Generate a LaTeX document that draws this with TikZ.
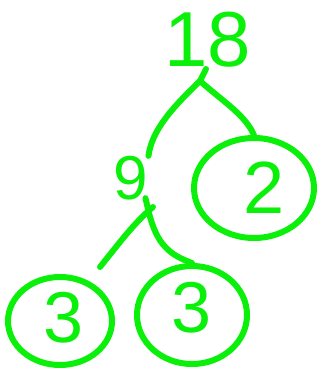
\documentclass[tikz,border=0pt]{standalone}
\usepackage{fontspec}
\setmainfont{Liberation Sans}
\usetikzlibrary{shapes.geometric}
\definecolor{pen}{RGB}{10,240,10}
\tikzset{
  stroke/.style={draw=pen, line width=6pt, line cap=round, line join=round},
  digit/.style={text=pen, inner sep=0pt},
  ring/.style={ellipse, draw=pen, line width=6pt, inner sep=0pt},
}
\begin{document}
\begin{tikzpicture}[x=1pt,y=-1pt]
\useasboundingbox (0,0) rectangle (323,370);
% nodes
\node[digit, font=\fontsize{78}{80}\selectfont] (n18) at (208,40) {18};
\node[digit, font=\fontsize{62}{64}\selectfont] (n9) at (131,178) {9};
\node[ring, minimum width=120pt, minimum height=100pt] (c2) at (254,188) {};
\node[digit, font=\fontsize{74}{76}\selectfont] (t2) at (264,188) {2};
\node[ring, minimum width=104pt, minimum height=88pt] (c3a) at (60,321) {};
\node[digit, font=\fontsize{72}{74}\selectfont] (t3a) at (64,318) {3};
\node[ring, minimum width=110pt, minimum height=98pt] (c3b) at (192,315) {};
\node[digit, font=\fontsize{72}{74}\selectfont] (t3b) at (192,308) {3};
% junctions
\coordinate (j1) at (200,81);
\coordinate (j2) at (149,213);
\coordinate (e3a) at (100,267);
% connectors
\draw[stroke] (206,69) -- (j1);
\draw[stroke] (j1) .. controls (172,108) and (152,130) .. (n9.north east);
\draw[stroke] (j1) .. controls (225,103) and (245,115) .. (c2.north);
\draw[stroke] (n9.south east) ++(-3,-2) coordinate (s9) -- (j2);
\draw[stroke] (153,207) .. controls (135,222) and (120,242) .. (e3a);
\draw[stroke] (j2) .. controls (157,245) and (170,255) .. (c3b.north);
\end{tikzpicture}
\end{document}
